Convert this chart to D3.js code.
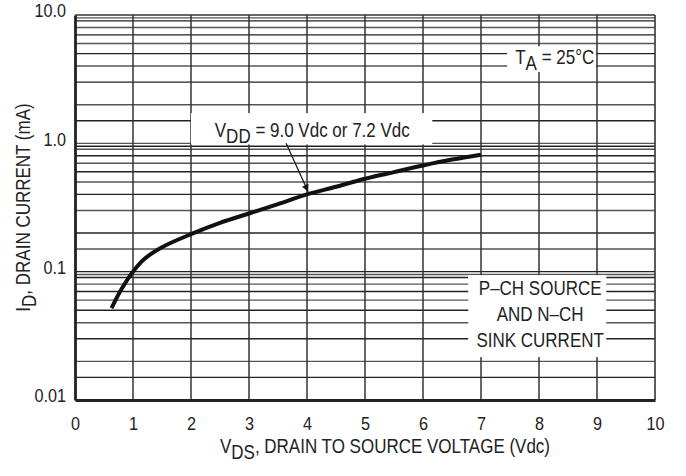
<!DOCTYPE html>
<html>
<head>
<meta charset="utf-8">
<script src="https://cdn.jsdelivr.net/npm/d3@7"></script>
<style>
  body { margin: 0; background: #fff; }
  svg { display: block; }
  text { font-family: "Liberation Sans", Arial, sans-serif; fill: #222; }
</style>
</head>
<body>
<svg id="chart"></svg>
<script>
const xTicks = [0, 1, 2, 3, 4, 5, 6, 7, 8, 9, 10];
const yTicks = [0.01, 0.1, 1, 10];
const yTickLabels = ["0.01", "0.1", "1.0", "10.0"];
const gridSteps = [1, 1.5, 2, 3, 4, 5, 6, 7, 8, 9, 9.5];

// drain current curve (VDD = 9.0 or 7.2 Vdc)
const vds = [0.63, 0.8, 1.0, 1.2, 1.5, 2.0, 2.5, 3.0, 3.5, 4.0, 4.5, 5.0, 5.5, 6.0, 6.5, 7.0];
const idmA = [0.052, 0.073, 0.1, 0.126, 0.155, 0.196, 0.24, 0.284, 0.336, 0.4, 0.459, 0.53, 0.597, 0.672, 0.747, 0.815];

const width = 686;
const height = 476;
const margin = { top: 15, right: 31, bottom: 76, left: 75 };
const squeeze = 0.85; // condensed lettering

const svg = d3.select("#chart").attr("width", width).attr("height", height);

const x = d3.scaleLinear().domain([0, 10]).range([margin.left, width - margin.right]);
const y = d3.scaleLog().domain([0.01, 10]).range([height - margin.bottom, margin.top]);

// grid
const gridVals = [];
[0.01, 0.1, 1].forEach((dec) => gridSteps.forEach((s) => gridVals.push(dec * s)));

svg.append("g")
  .selectAll("line")
  .data(gridVals.filter((d) => d > 0.01))
  .join("line")
  .attr("x1", x(0)).attr("x2", x(10))
  .attr("y1", (d) => y(d)).attr("y2", (d) => y(d))
  .attr("stroke", (d, i) => (i % 2 ? "#555" : "#222"))
  .attr("stroke-width", 1.4);

svg.append("g")
  .selectAll("line")
  .data(xTicks.filter((d) => d > 0 && d < 10))
  .join("line")
  .attr("x1", (d) => x(d)).attr("x2", (d) => x(d))
  .attr("y1", y(10)).attr("y2", y(0.01))
  .attr("stroke", "#333")
  .attr("stroke-width", 1.5);

// frame
svg.append("line").attr("x1", x(0)).attr("x2", x(10)).attr("y1", y(10)).attr("y2", y(10))
  .attr("stroke", "#333").attr("stroke-width", 1.6);
svg.append("line").attr("x1", x(10)).attr("x2", x(10)).attr("y1", y(10)).attr("y2", y(0.01))
  .attr("stroke", "#333").attr("stroke-width", 1.6);

// annotation boxes (white patches over the grid)
const boxes = [
  { x0: 2.0, x1: 6.16, top: 1.72, bottom: 0.98 },
  { x0: 7.45, x1: 8.98, top: 5.7, bottom: 3.6 },
  { x0: 6.78, x1: 9.16, top: 0.094, bottom: 0.0216 },
];
svg.append("g")
  .selectAll("rect")
  .data(boxes)
  .join("rect")
  .attr("x", (d) => x(d.x0))
  .attr("y", (d) => y(d.top))
  .attr("width", (d) => x(d.x1) - x(d.x0))
  .attr("height", (d) => y(d.bottom) - y(d.top))
  .attr("fill", "#fff");

// axes
const yAxis = svg.append("g")
  .attr("transform", `translate(${margin.left},0)`)
  .call(d3.axisLeft(y).tickValues(yTicks).tickFormat((d, i) => yTickLabels[i]).tickSize(0).tickPadding(0));
yAxis.select(".domain").attr("stroke", "#222").attr("stroke-width", 2.8);
yAxis.selectAll("text")
  .attr("x", -9 / 0.9).attr("dy", "0.1em")
  .attr("transform", "scale(0.9,1)")
  .attr("font-size", 18)
  .style("font-family", "'Liberation Sans', Arial, sans-serif").attr("fill", "#222");

const xAxis = svg.append("g")
  .attr("transform", `translate(0,${height - margin.bottom})`)
  .call(d3.axisBottom(x).tickValues(xTicks).tickFormat(d3.format("d")).tickSize(0).tickPadding(17));
xAxis.select(".domain").attr("stroke", "#222").attr("stroke-width", 2.8);
xAxis.selectAll("text")
  .attr("transform", "scale(0.9,1)")
  .attr("font-size", 18)
  .style("font-family", "'Liberation Sans', Arial, sans-serif").attr("fill", "#222");

// curve
const line = d3.line()
  .x((d, i) => x(vds[i]))
  .y((d) => y(d))
  .curve(d3.curveCatmullRom.alpha(0.5));

svg.append("path")
  .datum(idmA)
  .attr("d", line)
  .attr("fill", "none")
  .attr("stroke", "#111")
  .attr("stroke-width", 4);

// arrow
svg.append("defs").append("marker")
  .attr("id", "head")
  .attr("viewBox", "0 0 10 10")
  .attr("refX", 10).attr("refY", 5)
  .attr("markerWidth", 11).attr("markerHeight", 7)
  .attr("markerUnits", "userSpaceOnUse")
  .attr("orient", "auto")
  .append("path").attr("d", "M0,0L10,5L0,10z").attr("fill", "#111");

svg.append("line")
  .attr("x1", x(3.64)).attr("y1", y(1.0))
  .attr("x2", x(4.02)).attr("y2", y(0.42))
  .attr("stroke", "#111").attr("stroke-width", 1.2)
  .attr("marker-end", "url(#head)");

// condensed label helper
function label(px, py, anchor, rotate) {
  return svg.append("g")
    .attr("transform", `translate(${px},${py})${rotate ? " rotate(-90)" : ""} scale(${squeeze},1)`)
    .append("text")
    .attr("text-anchor", anchor || "start")
    .attr("font-size", 20);
}

function withSub(t, main, sub, rest) {
  t.append("tspan").text(main);
  t.append("tspan").attr("dy", 6).text(sub);
  t.append("tspan").attr("dy", -6).text(rest);
}

withSub(label(x(2.41), y(1.12)), "V", "DD", " = 9.0 Vdc or 7.2 Vdc");
withSub(label(x(7.59), y(4.15)), "T", "A", " = 25°C");

const pch = ["P–CH SOURCE", "AND N–CH", "SINK CURRENT"];
label(x(8.02), y(0.0658), "middle")
  .selectAll("tspan")
  .data(pch)
  .join("tspan")
  .attr("x", 0)
  .attr("y", (d, i) => i * 26)
  .text((d) => d);

// axis titles
withSub(label(385, 453, "middle"), "V", "DS", ", DRAIN TO SOURCE VOLTAGE (Vdc)");
withSub(label(30, (y(10) + y(0.01)) / 2, "middle", true), "I", "D", ", DRAIN CURRENT (mA)");
</script>
</body>
</html>
